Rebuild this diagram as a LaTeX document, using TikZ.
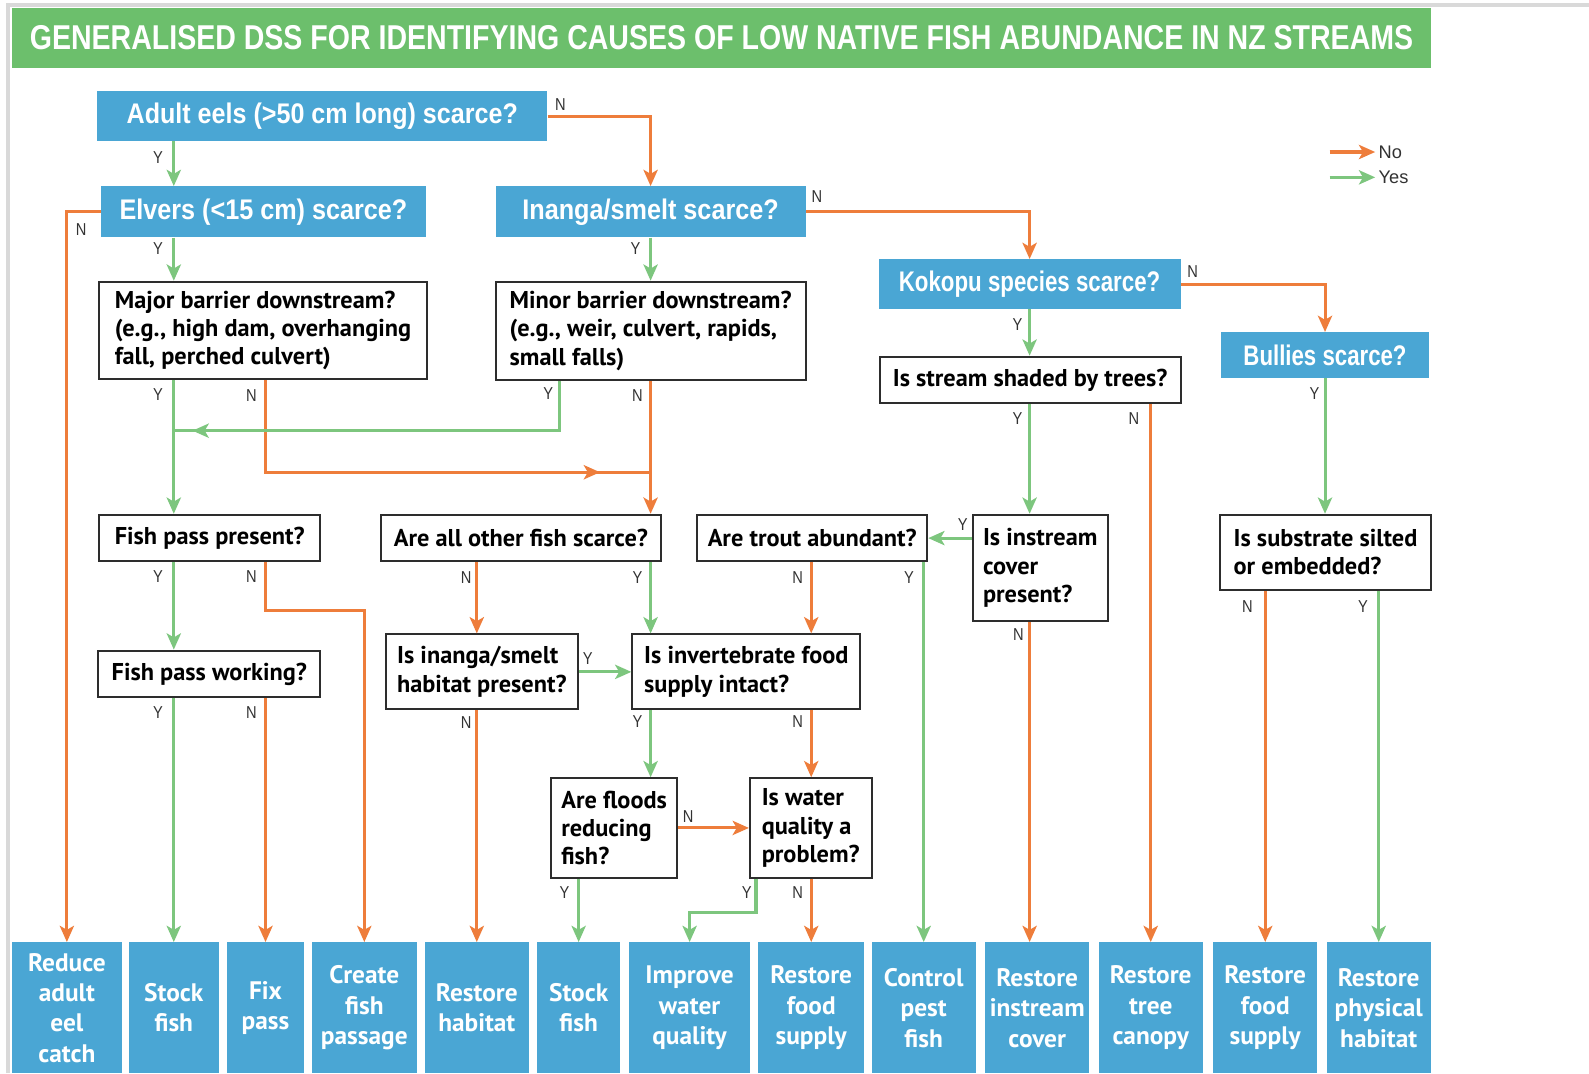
\documentclass[tikz,border=0pt]{standalone}
\usepackage{fontspec}
\usepackage{graphicx}
\usetikzlibrary{arrows.meta,decorations.markings}
\newfontfamily\helv{Liberation Sans}
\newfontfamily\helvc{Liberation Sans}[FakeStretch=0.85]
\newfontfamily\myr{PT Sans}
\definecolor{tgreen}{RGB}{108,191,108}
\definecolor{qblue}{RGB}{74,166,212}
\definecolor{aor}{RGB}{238,125,59}
\definecolor{agr}{RGB}{125,198,126}
\definecolor{bord}{RGB}{45,45,45}
\definecolor{labc}{RGB}{50,50,50}
\newcommand\fitw[2]{\resizebox{#1}{\height}{#2}}
\tikzset{
  tip/.tip={Stealth[length=8pt,width=7pt,inset=2pt]},
  bq/.style={fill=qblue, draw=none, text=white, font=\fontsize{14}{16}\selectfont\helv\bfseries, inner sep=0pt},
  wq/.style={fill=white, draw=bord, line width=1pt, font=\fontsize{12}{14}\selectfont\myr\bfseries, align=left, inner sep=1pt, text=black},
  act/.style={fill=qblue, draw=none, text=white, font=\fontsize{12.5}{15}\selectfont\myr\bfseries, align=center, inner sep=0pt, minimum height=64.5pt},
  noline/.style={aor, line width=1.5pt},
  yesline/.style={agr, line width=1.5pt},
  no/.style={noline, -tip},
  yes/.style={yesline, -tip},
  midtip/.style={postaction={decorate}, decoration={markings, mark=at position #1 with {\arrow{tip}}}},
  lab/.style={font=\fontsize{8.5}{10}\selectfont\helvc, text=labc, inner sep=0pt},
  leg/.style={font=\fontsize{9}{10}\selectfont\helv, text=labc, inner sep=1.5pt, anchor=west},
}
\begin{document}
\begin{tikzpicture}[x=0.5pt,y=-0.5pt]
\useasboundingbox (0,0) rectangle (1568,1059);
\fill[white] (0,0) rectangle (1568,1059);
\draw[black!15, line width=2pt] (8,1059) -- (8,5) -- (1568,5);

% title
\node[fill=tgreen, minimum width=700pt, minimum height=29.5pt, inner sep=0pt, text=white, font=\fontsize{17}{19}\selectfont\helv\bfseries] (title) at (712,37.5)
  {\fitw{682.5pt}{GENERALISED DSS FOR IDENTIFYING CAUSES OF LOW NATIVE FISH ABUNDANCE IN NZ STREAMS}};

% legend
\node[leg] (legno) at (1357,150) {No};
\node[leg] (legyes) at (1357,175) {Yes};
\coordinate (lno) at (1312,150);
\coordinate (lyes) at (1312,175);
\draw[no] (lno) -- (legno.west);
\draw[yes] (lyes) -- (legyes.west);

% blue question boxes
\node[bq, minimum width=222pt, minimum height=24.5pt] (adult) at (318,114.5) {\fitw{193pt}{Adult eels (>50 cm long) scarce?}};
\node[bq, minimum width=160pt, minimum height=25pt] (elvers) at (260,209) {\fitw{142pt}{Elvers (<15 cm) scarce?}};
\node[bq, minimum width=153pt, minimum height=25pt] (inanga) at (642,209) {\fitw{126.5pt}{Inanga/smelt scarce?}};
\node[bq, minimum width=149pt, minimum height=24.5pt] (kokopu) at (1016,280.5) {\fitw{129pt}{Kokopu species scarce?}};
\node[bq, minimum width=102.5pt, minimum height=22.5pt] (bullies) at (1307.5,350.5) {\fitw{80.5pt}{Bullies scarce?}};

% white question boxes
\node[wq, minimum width=161.5pt, minimum height=48pt] (major) at (259.5,326) {Major barrier downstream?\\(e.g., high dam, overhanging\\fall, perched culvert)};
\node[wq, minimum width=153pt, minimum height=48.5pt] (minor) at (642,326.5) {Minor barrier downstream?\\(e.g., weir, culvert, rapids,\\small falls)};
\node[wq, minimum width=148.5pt, minimum height=23pt] (shaded) at (1016.5,375) {Is stream shaded by trees?};
\node[wq, minimum width=109pt, minimum height=23pt] (fpp) at (207,531) {Fish pass present?};
\node[wq, minimum width=138pt, minimum height=23pt] (allother) at (514,531) {Are all other fish scarce?};
\node[wq, minimum width=113.5pt, minimum height=23pt] (trout) at (801.5,531) {Are trout abundant?};
\node[wq, minimum width=66.5pt, minimum height=52.5pt] (instream) at (1026.5,560.5) {Is instream\\cover\\present?};
\node[wq, minimum width=104pt, minimum height=37pt] (substrate) at (1308,545) {Is substrate silted\\or embedded?};
\node[wq, minimum width=109.5pt, minimum height=23pt] (fpw) at (206.5,665) {Fish pass working?};
\node[wq, minimum width=94.5pt, minimum height=37pt] (habitat) at (475.5,663) {Is inanga/smelt\\habitat present?};
\node[wq, minimum width=112.5pt, minimum height=37pt] (invert) at (736.5,663) {Is invertebrate food\\supply intact?};
\node[wq, minimum width=62pt, minimum height=49pt] (floods) at (606,817) {Are floods\\reducing\\fish?};
\node[wq, minimum width=60pt, minimum height=49pt] (water) at (800,817) {Is water\\quality a\\problem?};

% action boxes
\node[act, minimum width=54pt] (b1) at (66,994.5) {Reduce\\adult\\eel\\catch};
\node[act, minimum width=44.5pt] (b2) at (171.5,994.5) {Stock\\fish};
\node[act, minimum width=38pt] (b3) at (262,994.5) {Fix\\pass};
\node[act, minimum width=51.5pt] (b4) at (359.5,994.5) {Create\\fish\\passage};
\node[act, minimum width=51.5pt] (b5) at (470.5,994.5) {Restore\\habitat};
\node[act, minimum width=41pt] (b6) at (571,994.5) {Stock\\fish};
\node[act, minimum width=59.5pt] (b7) at (680.5,994.5) {Improve\\water\\quality};
\node[act, minimum width=52.5pt] (b8) at (800.5,994.5) {Restore\\food\\supply};
\node[act, minimum width=51.5pt] (b9) at (911.5,994.5) {Control\\pest\\fish};
\node[act, minimum width=51.5pt] (b10) at (1023.5,994.5) {Restore\\instream\\cover};
\node[act, minimum width=51.5pt] (b11) at (1135.5,994.5) {Restore\\tree\\canopy};
\node[act, minimum width=51.5pt] (b12) at (1248.5,994.5) {Restore\\food\\supply};
\node[act, minimum width=51.5pt] (b13) at (1360.5,994.5) {Restore\\physical\\habitat};

% helper coordinates
\coordinate (jY) at (171.5,425);
\coordinate (jN) at (642,466);
\coordinate (kfpp) at (0,602);
\coordinate (kw) at (0,900);

% connectors
\draw[yes] (adult.south -| b2.north) -- (elvers.north -| b2.north);
\draw[no] (adult.east) -| (inanga.north);
\draw[yes] (elvers.south -| b2.north) -- (major.north -| b2.north);
\draw[no] (elvers.west) -| (b1.north);
\draw[yes] (inanga.south) -- (minor.north);
\draw[no] (inanga.east) -| (kokopu.north);
\draw[yes] (kokopu.south) -- (shaded.north -| kokopu.south);
\draw[no] (kokopu.east) -| (bullies.north);
\draw[yes] (bullies.south) -- (substrate.north -| bullies.south);

\draw[yes] (major.south -| b2.north) -- (fpp.north -| b2.north);
\draw[noline, midtip=0.894] (major.south -| b3.north) |- (jN);
\draw[yesline, midtip=0.957] ([xshift=32pt]minor.south west) |- (jY);
\draw[no] (minor.south) -- (allother.north -| minor.south);

\draw[yes] (fpp.south -| b2.north) -- (fpw.north -| b2.north);
\draw[no] (fpp.south -| b3.north) |- (kfpp -| b4.north) -- (b4.north);
\draw[yes] (fpw.south -| b2.north) -- (b2.north);
\draw[no] (fpw.south -| b3.north) -- (b3.north);

\draw[no] (allother.south -| b5.north) -- (habitat.north -| b5.north);
\draw[yes] (allother.south -| minor.south) -- (invert.north -| minor.south);
\draw[yes] (habitat.east) -- (invert.west);
\draw[no] (habitat.south -| b5.north) -- (b5.north);

\draw[no] (trout.south -| b8.north) -- (invert.north -| b8.north);
\draw[yes] (trout.south -| b9.north) -- (b9.north);
\draw[yes] (instream.west |- trout.east) -- (trout.east);
\draw[no] (instream.south -| kokopu.south) -- (b10.north -| kokopu.south);
\draw[yes] (shaded.south -| kokopu.south) -- (instream.north -| kokopu.south);
\draw[no] (shaded.south -| b11.north) -- (b11.north);
\draw[no] (substrate.south -| b12.north) -- (b12.north);
\draw[yes] (substrate.south -| b13.north) -- (b13.north);

\draw[yes] (invert.south -| minor.south) -- (floods.north -| minor.south);
\draw[no] (invert.south -| b8.north) -- (water.north -| b8.north);
\draw[no] (floods.east) -- (water.west);
\draw[yes] (floods.south -| b6.north) -- (b6.north);
\draw[yes] ([xshift=3.5pt]water.south west) |- (kw -| b7.north) -- (b7.north);
\draw[no] (water.south -| b8.north) -- (b8.north);

% Y/N labels
\node[lab] (l1) at (156,155) {Y};
\node[lab] (l2) at (553,103) {N};
\node[lab] (l3) at (156,245) {Y};
\node[lab] (l4) at (80,227) {N};
\node[lab] (l5) at (627,245) {Y};
\node[lab] (l6) at (806,194) {N};
\node[lab] (l7) at (1004,320) {Y};
\node[lab] (l8) at (1177,268) {N};
\node[lab] (l9) at (1297,388) {Y};
\node[lab] (l10) at (156,389) {Y};
\node[lab] (l11) at (248,390) {N};
\node[lab] (l12) at (541,388) {Y};
\node[lab] (l13) at (629,390) {N};
\node[lab] (l14) at (156,569) {Y};
\node[lab] (l15) at (248,569) {N};
\node[lab] (l16) at (156,703) {Y};
\node[lab] (l17) at (248,703) {N};
\node[lab] (l18) at (460,570) {N};
\node[lab] (l19) at (629,570) {Y};
\node[lab] (l20) at (580,650) {Y};
\node[lab] (l21) at (460,713) {N};
\node[lab] (l22) at (787,570) {N};
\node[lab] (l23) at (897,570) {Y};
\node[lab] (l24) at (950,518) {Y};
\node[lab] (l25) at (1005,626) {N};
\node[lab] (l26) at (1004,413) {Y};
\node[lab] (l27) at (1119,413) {N};
\node[lab] (l28) at (1231,599) {N};
\node[lab] (l29) at (1345,599) {Y};
\node[lab] (l30) at (629,712) {Y};
\node[lab] (l31) at (787,712) {N};
\node[lab] (l32) at (679,806) {N};
\node[lab] (l33) at (557,881) {Y};
\node[lab] (l34) at (737,881) {Y};
\node[lab] (l35) at (787,881) {N};
\end{tikzpicture}
\end{document}
